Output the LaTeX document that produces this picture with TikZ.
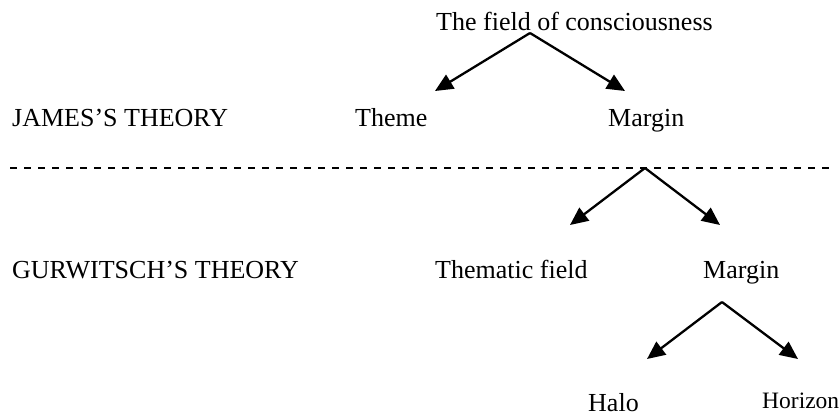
\documentclass[tikz,border=0pt]{standalone}
\usepackage{fontspec}
\setmainfont{Liberation Serif}
\usetikzlibrary{arrows.meta}
\begin{document}
\begin{tikzpicture}[x=1pt,y=-1pt,
  lbl/.style={inner sep=0pt,anchor=base west,font=\fontsize{26}{30}\selectfont},
  smalllbl/.style={inner sep=0pt,anchor=base west,font=\fontsize{23.5}{28}\selectfont},
  arr/.style={line width=2.3pt,-{Triangle[length=18pt,width=16pt]}},
  sep/.style={line width=1.9pt,dash pattern=on 7pt off 7pt}]
\useasboundingbox (0,0) rectangle (840,416);
% texts
\node[lbl] (title) at (436,30) {The field of consciousness};
\node[lbl] (james) at (12,126) {JAMES’S THEORY};
\node[lbl] (theme) at (355,126) {Theme};
\node[lbl] (margin1) at (608,126) {Margin};
\node[lbl] (gurw) at (12,278) {GURWITSCH’S THEORY};
\node[lbl] (thematic) at (435,278) {Thematic field};
\node[lbl] (margin2) at (703,278) {Margin};
\node[lbl] (halo) at (588,411) {Halo};
\node[smalllbl] (horizon) at (762,408) {Horizon};
% coordinates
\coordinate (ap1) at (530,33);
\coordinate (t1l) at (435,91);
\coordinate (t1r) at (625,91);
\coordinate (sepL) at (10,168);
\coordinate (sepR) at (836,168);
\coordinate (ap2) at (645,168);
\coordinate (t2l) at (570,225);
\coordinate (t2r) at (720,225);
\coordinate (ap3) at (722,302);
\coordinate (t3l) at (647,359);
\coordinate (t3r) at (798,359);
% connectors
\draw[sep] (sepL) -- (sepR);
\draw[arr] (ap1) -- (t1l);
\draw[arr] (ap1) -- (t1r);
\draw[arr] (ap2) -- (t2l);
\draw[arr] (ap2) -- (t2r);
\draw[arr] (ap3) -- (t3l);
\draw[arr] (ap3) -- (t3r);
\end{tikzpicture}
\end{document}
